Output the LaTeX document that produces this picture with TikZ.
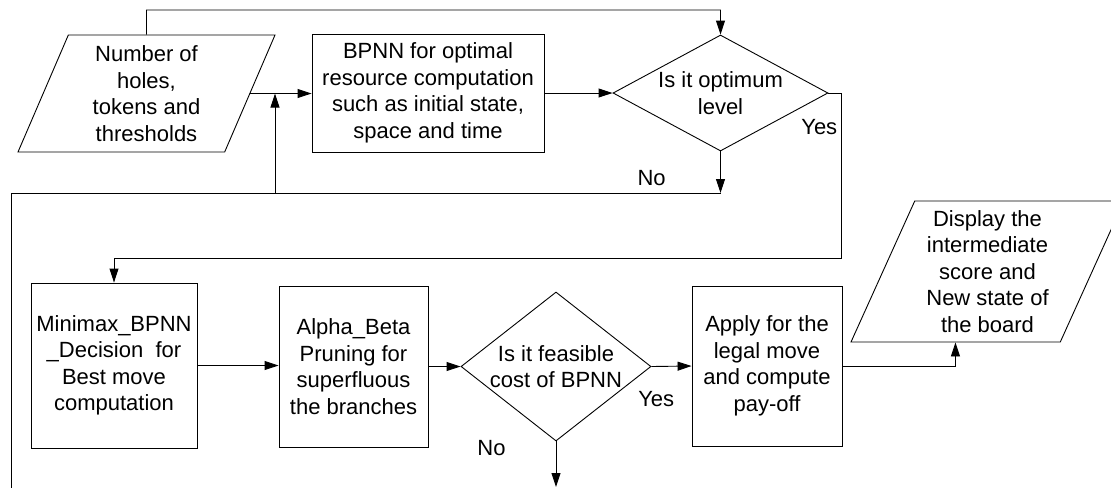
\documentclass[tikz,border=0pt]{standalone}
\usepackage{fontspec}
\setmainfont{Liberation Sans}
\usepackage{tikz}
\usetikzlibrary{arrows.meta,shapes.geometric}
\tikzset{
  flowtext/.style={font=\fontsize{22}{26.5}\selectfont, align=center},
  iobox/.style={trapezium, draw, flowtext, inner sep=2pt,
                trapezium left angle=63.2, trapezium right angle=116.8,
                trapezium stretches body=true},
  procbox/.style={rectangle, draw, flowtext, inner sep=2pt},
  decision/.style={diamond, draw, flowtext, inner sep=0pt},
  fwd/.style={-{Triangle[length=14pt,width=9pt]}},
  lbl/.style={flowtext},
}

\begin{document}
\begin{tikzpicture}[x=1pt, y=-1pt, line width=0.9pt]
\useasboundingbox (0,0) rectangle (1111,488);
%Nodes
\node[iobox, minimum width=257pt, minimum height=117pt] (input) at (146.5,93.5) {Number of\\holes,\\tokens and\\thresholds};
\node[procbox, minimum width=232pt, minimum height=118pt] (bpnn) at (428,93) {BPNN for optimal\\resource computation\\such as initial state,\\space and time};
\node[decision, minimum width=215pt, minimum height=116pt, aspect=1.85] (optimum) at (720.5,93) {Is it optimum\\level};
\node[procbox, minimum width=166pt, minimum height=165pt] (minimax) at (114,365.5) {Minimax\_BPNN\\\_Decision\ \ for\\Best move\\computation};
\node[procbox, minimum width=149pt, minimum height=161pt] (alphabeta) at (353.5,366.5) {Alpha\_Beta\\Pruning for\\superfluous\\the branches};
\node[decision, minimum width=190pt, minimum height=149pt, aspect=1.275] (feasible) at (556,366.5) {Is it feasible\\cost of BPNN};
\node[procbox, minimum width=150pt, minimum height=160pt] (apply) at (767,366) {Apply for the\\legal move\\and compute\\pay-off};
\node[iobox, minimum width=273pt, minimum height=141pt] (display) at (987.5,271.5) {Display the\\intermediate\\score and\\New state of\\the board};

\coordinate (toprun) at (146.5,10);
\coordinate (nojoin) at (720.5,193);
\coordinate (noleft) at (11,193);
\coordinate (noend) at (11,488);
\coordinate (backup) at (275,193);
\coordinate (yesturn) at (841,258);
\coordinate (feasend) at (556,487);

%Lines
\draw[fwd] (input.north) -- (toprun) -| (optimum.north);
\draw[fwd] (input.right side) -- (input.right side -| bpnn.west);
\draw[fwd] (bpnn.east) -- (optimum.west);
\draw[fwd] (optimum.south) -- (nojoin) node[lbl, pos=0.64, left=51pt] {No};
\draw (nojoin) -- (noleft) -- (noend);
\draw[fwd] (backup) -- (backup |- input.right side);
\draw[fwd] (optimum.east) -| (yesturn) node[lbl, pos=0.603, left=0pt] {Yes} -| (minimax.north);
\draw[fwd] (minimax.east) -- (minimax.east -| alphabeta.west);
\draw[fwd] (alphabeta.east) -- (feasible.west);
\draw[fwd] (feasible.east) -- (apply.west) node[lbl, pos=0.12, below=21pt] {Yes};
\draw[fwd] (feasible.south) -- (feasend) node[lbl, pos=0.15, left=46.6pt] {No};
\draw[fwd] (apply.east) -| (display.bottom side);
\end{tikzpicture}
\end{document}
